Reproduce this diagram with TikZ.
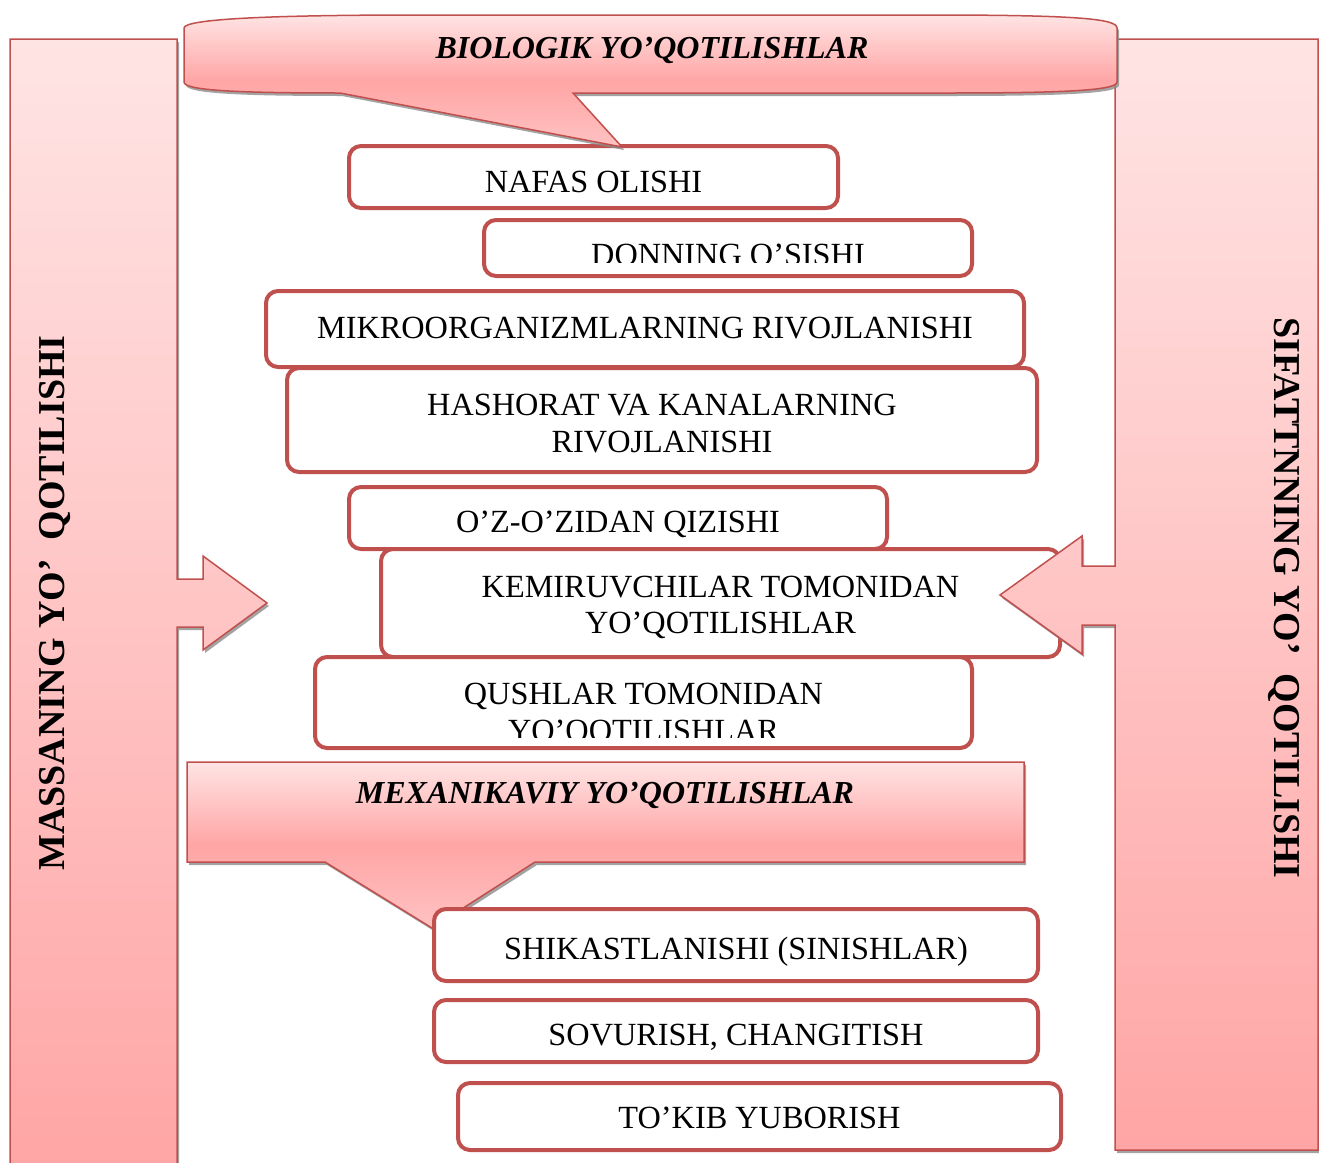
\documentclass[tikz,border=0pt]{standalone}
\usepackage{fontspec}
\setmainfont{Liberation Serif}
\usetikzlibrary{shadows}
\definecolor{qizil}{HTML}{C0504D}
\definecolor{pushtiA}{HTML}{FFE4E4}
\definecolor{pushtiB}{HTML}{FFC2C2}
\definecolor{pushtiC}{HTML}{FFA5A5}
\tikzset{
  soya/.style={drop shadow={shadow xshift=2pt, shadow yshift=-3pt, fill=black!45, opacity=0.8}},
  strelka/.style={draw=qizil, line width=1.5pt, top color=pushtiA, bottom color=pushtiC, soya},
  sarlavha/.style={draw=qizil, line width=1.5pt, top color=pushtiA, bottom color=pushtiB, middle color=pushtiC, soya},
  matn/.style={font=\fontsize{32.3}{37}\selectfont, align=center, inner sep=0pt},
  bolim/.style={matn, draw=qizil, line width=4pt, rounded corners=12pt, fill=white},
  past/.style={text height=#1, text depth=0pt},
  yon/.style={font=\fontsize{38}{42}\selectfont\bfseries},
  bosh/.style={font=\fontsize{32}{38}\selectfont\bfseries\itshape}
}
\begin{document}
\begin{tikzpicture}[x=1pt,y=-1pt]
\useasboundingbox (0,0) rectangle (1319,1162);
% chap ustun
\path[strelka] (10,39) -- (177,39) -- (177,579) -- (203,579) -- (203,556) -- (267,603)
  -- (203,650) -- (203,627) -- (177,627) -- (177,1180) -- (10,1180) -- cycle;
\node[yon, rotate=90] (massa) at (55,603) {MASSANING YO’\ \ QOTILISHI};

% biologik
\node[bolim, past=30pt, minimum width=489pt, minimum height=62pt] (nafas) at (593.5,177) {NAFAS OLISHI};
\node[bolim, minimum width=488pt, minimum height=56pt] (donning) at (728,248) {};
\begin{scope}
  \clip (490,226) rectangle (966,262);
  \node[matn, anchor=base] (donningM) at (728,265) {DONNING O’SISHI};
\end{scope}
\node[bolim, past=18pt, minimum width=758pt, minimum height=76pt] (mikro) at (645,329) {MIKROORGANIZMLARNING RIVOJLANISHI};
\node[bolim, minimum width=750pt, minimum height=104pt] (hashorat) at (662,420) {};
\node[matn, anchor=base] (hashoratA) at (662,415) {HASHORAT VA KANALARNING};
\node[matn, anchor=base] (hashoratB) at (662,452) {RIVOJLANISHI};
\node[bolim, past=28pt, minimum width=538pt, minimum height=62pt] (ozidan) at (618,518) {O’Z-O’ZIDAN QIZISHI};
\node[bolim, minimum width=679pt, minimum height=108pt] (kemir) at (720.5,603) {};
\node[matn, anchor=base] (kemirA) at (720.5,597) {KEMIRUVCHILAR TOMONIDAN};
\node[matn, anchor=base] (kemirB) at (720.5,633) {YO’QOTILISHLAR};
\node[bolim, minimum width=657pt, minimum height=91pt] (qush) at (643.5,702.5) {};
\node[matn, anchor=base] (qushA) at (643.5,704) {QUSHLAR TOMONIDAN};
\begin{scope}
  \clip (325,710) rectangle (962,737);
  \node[matn, anchor=base] (qushB) at (643.5,741) {YO’QOTILISHLAR};
\end{scope}

% o'ng ustun
\path[strelka] (1115,39) -- (1318,39) -- (1318,1150) -- (1115,1150) -- (1115,625) -- (1082,625)
  -- (1082,654) -- (1000,595) -- (1082,536) -- (1082,566) -- (1115,566) -- cycle;
\node[yon, rotate=-90] (sifat) at (1284,598) {SIFATTNNING YO’\ \ QOTILISHI};

% sarlavhalar
\path[sarlavha] (184,82) -- (184,28) .. controls (184,19) and (270,15) .. (420,15) -- (930,15)
  .. controls (1080,15) and (1117,19) .. (1117,28) -- (1117,82)
  .. controls (1117,90) and (1070,93) .. (950,93) -- (573,93) -- (622,147) -- (340,93)
  .. controls (230,93) and (184,90) .. (184,82) -- cycle;
\node[bosh] (bio) at (652,50) {BIOLOGIK YO’QOTILISHLAR};
\path[sarlavha] (187,762) -- (1024,762) -- (1024,862) -- (535,862) -- (432,928) -- (325,862)
  -- (187,862) -- cycle;
\node[bosh] (mex) at (605,795) {MEXANIKAVIY YO’QOTILISHLAR};

% mexanik
\node[bolim, past=28pt, minimum width=604pt, minimum height=72pt] (shikast) at (736,945) {SHIKASTLANISHI (SINISHLAR)};
\node[bolim, past=28pt, minimum width=604pt, minimum height=62pt] (sovur) at (736,1031) {SOVURISH, CHANGITISH};
\node[bolim, past=23pt, minimum width=603pt, minimum height=67pt] (tokib) at (759.5,1116.5) {TO’KIB YUBORISH};
\end{tikzpicture}
\end{document}
